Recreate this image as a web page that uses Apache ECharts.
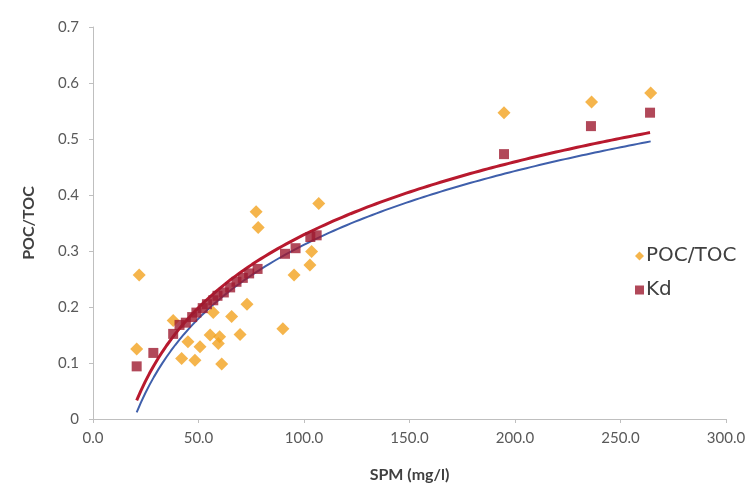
<!DOCTYPE html>
<html>
<head>
<meta charset="utf-8">
<script src="https://cdn.jsdelivr.net/npm/echarts@6/dist/echarts.min.js"></script>
<style>
  html, body { margin: 0; padding: 0; background: #ffffff; }
  #chart { width: 755px; height: 488px; }
</style>
</head>
<body>
<div id="chart"></div>
<script>
// SPM (mg/l) against POC/TOC ratio
const pocTocSpm = [21.9, 20.7, 38, 42, 45, 48.3, 50.7, 55.5, 57, 59.4, 60, 61, 65.7, 69.7, 73, 77.3, 78.3, 90, 95.3, 102.8, 103.6, 107, 194.8, 236.3, 264.3];
const pocTocVal = [0.257, 0.125, 0.176, 0.108, 0.138, 0.105, 0.129, 0.15, 0.19, 0.135, 0.147, 0.098, 0.183, 0.151, 0.205, 0.37, 0.342, 0.161, 0.257, 0.275, 0.299, 0.385, 0.547, 0.566, 0.582];

// SPM (mg/l) against Kd
const kdSpm = [20.7, 28.6, 38, 41, 44, 47, 49, 52, 54, 57, 59, 62, 65, 68, 71, 74, 78, 91, 96, 103, 106, 194.8, 236, 264];
const kdVal = [0.094, 0.118, 0.152, 0.168, 0.172, 0.182, 0.19, 0.198, 0.205, 0.212, 0.22, 0.226, 0.235, 0.245, 0.252, 0.26, 0.268, 0.295, 0.305, 0.325, 0.328, 0.473, 0.523, 0.547];

const xTicks = [0, 50, 100, 150, 200, 250, 300];
const yTicks = [0, 0.1, 0.2, 0.3, 0.4, 0.5, 0.6, 0.7];

const seriesNames = ['POC/TOC', 'Kd'];
const colors = { poc: '#f3a21f', kd: '#9e1a2f', pocFit: '#3f5fab', kdFit: '#b8192e' };

// least-squares fit of y = a*ln(x) + b
function logFit(xs, ys) {
  const n = xs.length;
  let sx = 0, sy = 0, sxx = 0, sxy = 0;
  for (let i = 0; i < n; i++) {
    const lx = Math.log(xs[i]);
    sx += lx; sy += ys[i]; sxx += lx * lx; sxy += lx * ys[i];
  }
  const a = (n * sxy - sx * sy) / (n * sxx - sx * sx);
  const b = (sy - a * sx) / n;
  return { a, b };
}

// trend curve sampled across the series' own SPM range
function fitLine(xs, ys) {
  const f = logFit(xs, ys);
  const lo = Math.min(...xs), hi = Math.max(...xs);
  const pts = [];
  const steps = 120;
  for (let i = 0; i <= steps; i++) {
    const x = lo + (hi - lo) * i / steps;
    pts.push([x, f.a * Math.log(x) + f.b]);
  }
  return pts;
}

const pocPts = pocTocSpm.map((x, i) => [x, pocTocVal[i]]);
const kdPts = kdSpm.map((x, i) => [x, kdVal[i]]);

const chart = echarts.init(document.getElementById('chart'));
const font = 'Lato, "Open Sans", sans-serif';

chart.setOption({
  animation: false,
  backgroundColor: '#ffffff',
  grid: { left: 93, right: 29, top: 27, bottom: 65 },
  legend: {
    orient: 'vertical',
    left: 630,
    top: 241,
    itemGap: 14,
    itemWidth: 9,
    itemHeight: 9,
    data: [
      { name: seriesNames[0], icon: 'diamond' },
      { name: seriesNames[1], icon: 'rect' }
    ],
    textStyle: { fontFamily: '"DejaVu Sans", sans-serif', fontSize: 20, color: '#404040', padding: [0, 0, 0, -3] }
  },
  xAxis: {
    type: 'value',
    min: xTicks[0], max: xTicks[xTicks.length - 1], interval: xTicks[1] - xTicks[0],
    name: 'SPM (mg/l)',
    nameLocation: 'middle',
    nameGap: 48,
    nameTextStyle: { fontFamily: font, fontSize: 16, fontWeight: 'bold', color: '#404040' },
    axisLine: { show: true, lineStyle: { color: '#bfbfbf', width: 1 } },
    axisTick: { show: true, length: 4, lineStyle: { color: '#bfbfbf' } },
    axisLabel: { fontFamily: font, fontSize: 15, color: '#595959', margin: 12,
      formatter: v => v.toFixed(1) },
    splitLine: { show: false }
  },
  yAxis: {
    type: 'value',
    min: yTicks[0], max: yTicks[yTicks.length - 1], interval: 0.1,
    name: 'POC/TOC',
    nameLocation: 'middle',
    nameGap: 56,
    nameTextStyle: { fontFamily: font, fontSize: 16, fontWeight: 'bold', color: '#404040' },
    axisLine: { show: true, lineStyle: { color: '#bfbfbf', width: 1 } },
    axisTick: { show: true, length: 4, lineStyle: { color: '#bfbfbf' } },
    axisLabel: { fontFamily: font, fontSize: 15, color: '#595959', margin: 14,
      formatter: v => (v === 0 ? '0' : v.toFixed(1)) },
    splitLine: { show: false }
  },
  series: [
    {
      name: 'POC/TOC trend',
      type: 'line',
      data: fitLine(pocTocSpm, pocTocVal),
      showSymbol: false,
      lineStyle: { color: colors.pocFit, width: 2 },
      z: 2,
      silent: true
    },
    {
      name: 'Kd trend',
      type: 'line',
      data: fitLine(kdSpm, kdVal),
      showSymbol: false,
      lineStyle: { color: colors.kdFit, width: 3 },
      z: 3,
      silent: true
    },
    {
      name: seriesNames[0],
      type: 'scatter',
      symbol: 'diamond',
      symbolSize: 13,
      data: pocPts,
      itemStyle: { color: colors.poc },
      z: 4
    },
    {
      name: seriesNames[1],
      type: 'scatter',
      symbol: 'rect',
      symbolSize: 10,
      data: kdPts,
      itemStyle: { color: colors.kd },
      z: 5
    }
  ]
});
</script>
</body>
</html>
